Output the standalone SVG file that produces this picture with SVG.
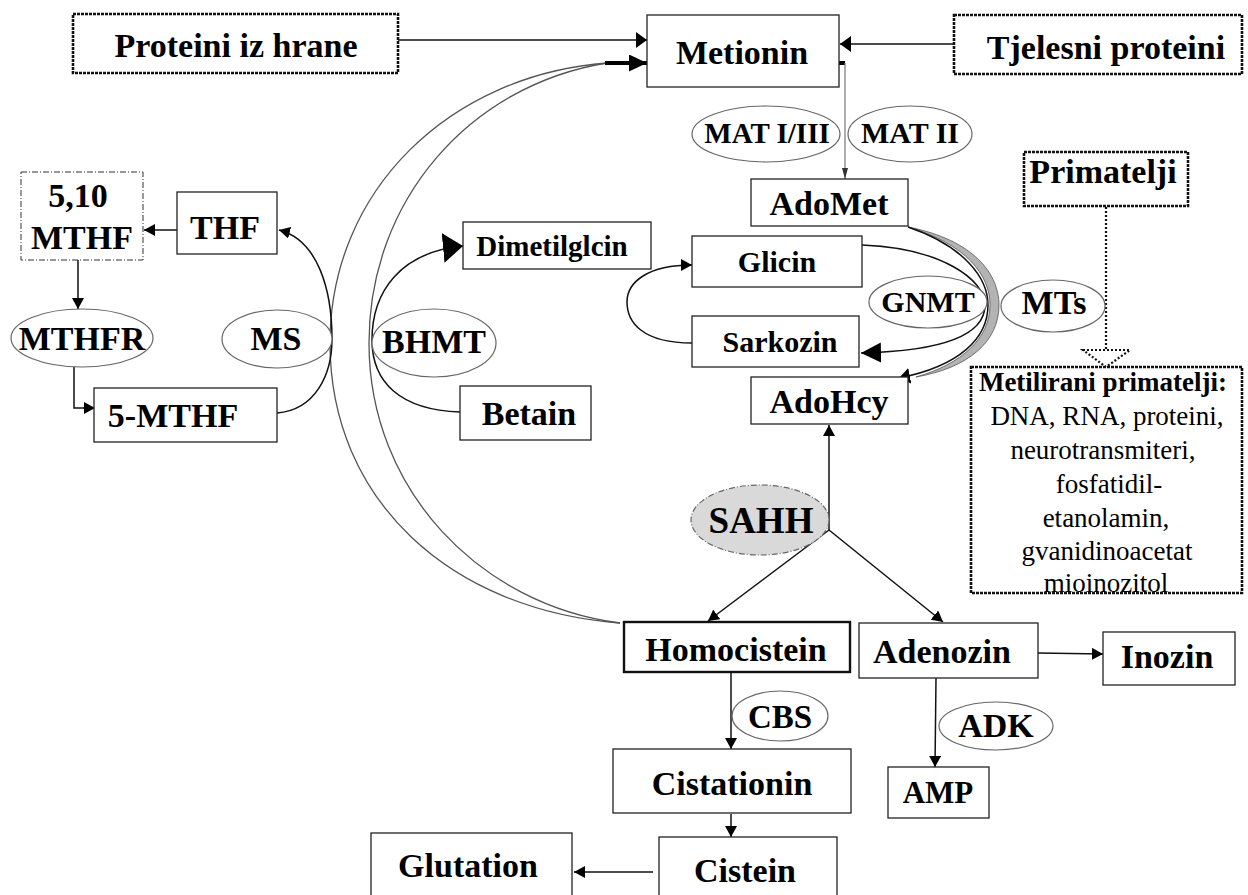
<svg xmlns="http://www.w3.org/2000/svg" width="1248" height="895" viewBox="0 0 1248 895">
<style>
.box{fill:#fff;stroke:#222;stroke-width:1.3}
.thick{fill:#fff;stroke:#111;stroke-width:2.4}
.dot{fill:#fff;stroke:#111;stroke-width:2.6;stroke-dasharray:3 1}
.dd{fill:#fff;stroke:#333;stroke-width:1;stroke-dasharray:6 2 1 2}
.enz{fill:#fff;stroke:#666;stroke-width:1.2}
.sahh{fill:#d9d9d9;stroke:#666;stroke-width:1.2;stroke-dasharray:6 2 1 2}
.t{font-family:"Liberation Serif","Times New Roman",serif;font-weight:bold;font-size:34px;text-anchor:middle;fill:#000}
.s29{font-size:29px}
.s30{font-size:30px}
.r{font-family:"Liberation Serif","Times New Roman",serif;font-size:27px;text-anchor:middle;fill:#000}
.ln{fill:none;stroke:#111;stroke-width:1.5}
.arc{fill:none;stroke:#555;stroke-width:1.3}
.gray{fill:none;stroke:#777;stroke-width:1.2}
</style>
<defs>
<marker id="ah" markerUnits="userSpaceOnUse" markerWidth="12" markerHeight="12" refX="11" refY="6" orient="auto"><path d="M0,0 L11,6 L0,12 z" fill="#000"/></marker>
<marker id="ahw" markerUnits="userSpaceOnUse" markerWidth="12" markerHeight="16" refX="11" refY="8" orient="auto"><path d="M0,0 L11,8 L0,16 z" fill="#000"/></marker>
<marker id="ahthin" markerUnits="userSpaceOnUse" markerWidth="12" markerHeight="8" refX="11" refY="3" orient="auto"><path d="M0,0 L11,3 L0,6 z" fill="#333"/></marker>
<marker id="ahbig" markerUnits="userSpaceOnUse" markerWidth="22" markerHeight="30" refX="20" refY="15" orient="auto"><path d="M0,0 L20,15 L0,30 z" fill="#000"/></marker>
<marker id="ahmed" markerUnits="userSpaceOnUse" markerWidth="22" markerHeight="22" refX="20" refY="10" orient="auto"><path d="M0,0 L20,10 L0,20 z" fill="#000"/></marker>
<marker id="ahthick" markerUnits="userSpaceOnUse" markerWidth="20" markerHeight="18" refX="18" refY="8.5" orient="auto"><path d="M0,0 L18,8.5 L0,17 z" fill="#000"/></marker>
</defs>

<g id="connectors">
  <!-- top inputs -->
  <line class="ln" x1="398" y1="40" x2="647" y2="40" stroke-width="2" marker-end="url(#ahw)"/>
  <line class="ln" x1="954" y1="44" x2="840" y2="44" marker-end="url(#ahw)"/>
  <!-- Metionin to AdoMet -->
  <path d="M839,63 H845" stroke="#000" stroke-width="4" fill="none"/>
  <path class="gray" d="M845,63 V179" marker-end="url(#ahthin)"/>
  <!-- remethylation arcs Homocistein -> Metionin -->
  <path class="arc" d="M620,623 C450,610 330,500 330,343 C330,190 450,75 607,63"/>
  <path class="arc" d="M620,623 C480,605 369,490 369,343 C369,200 470,85 607,63"/>
  <line x1="605" y1="63" x2="647" y2="63" stroke="#000" stroke-width="4" marker-end="url(#ahthick)"/>
  <!-- folate cycle -->
  <line class="ln" x1="177" y1="230" x2="144" y2="230" marker-end="url(#ah)"/>
  <line class="ln" x1="78" y1="260" x2="78" y2="309" marker-end="url(#ah)"/>
  <path class="ln" d="M74,367 V408 H95" marker-end="url(#ah)"/>
  <path class="ln" d="M277,413 C315,410 332,375 332,339 C332,290 318,240 279,230" marker-end="url(#ah)"/>
  <!-- BHMT -->
  <path class="ln" d="M460,412 C400,410 372,382 372,340 C372,292 400,252 463,246" marker-end="url(#ahbig)"/>
  <!-- Sarkozin -> Glicin loop -->
  <path class="ln" d="M692,343 C642,343 627,322 627,302 C627,282 648,265 692,265" marker-end="url(#ah)"/>
  <!-- AdoMet -> AdoHcy crescent -->
  <path d="M908,227 C975,240 999,275 999,305 C999,342 968,368 916,377 C962,364 990,338 990,305 C990,275 966,244 908,227 Z" fill="#b3b3b3" stroke="#555" stroke-width="0.8"/>
  <path class="ln" d="M908,227 C964,246 988,278 988,305 C988,338 960,366 899,378" marker-end="url(#ahw)"/>
  <!-- Glicin -> Sarkozin -->
  <path class="ln" d="M862,245 C942,248 985,280 985,305 C985,336 942,351 861,353" marker-end="url(#ahmed)"/>
  <!-- Primatelji -> Metilirani -->
  <line x1="1106" y1="207" x2="1106" y2="350" stroke="#111" stroke-width="2.2" stroke-dasharray="2 2"/>
  <path d="M1083,350 H1130 L1106,367 Z" fill="#fff" stroke="#111" stroke-width="2.2" stroke-dasharray="2 2"/>
  <!-- SAHH -->
  <line class="ln" x1="829" y1="531" x2="829" y2="425" marker-end="url(#ah)"/>
  <line class="ln" x1="829" y1="530" x2="708" y2="621" marker-end="url(#ah)"/>
  <line class="ln" x1="829" y1="530" x2="943" y2="622" marker-end="url(#ah)"/>
  <!-- transsulfuration -->
  <line class="ln" x1="731" y1="672" x2="731" y2="749" marker-end="url(#ah)"/>
  <line class="ln" x1="731" y1="814" x2="731" y2="837" marker-end="url(#ah)"/>
  <line class="ln" x1="653" y1="872" x2="574" y2="872" marker-end="url(#ah)"/>
  <!-- adenosine -->
  <line class="ln" x1="1038" y1="653" x2="1103" y2="654" marker-end="url(#ah)"/>
  <line class="ln" x1="936" y1="678" x2="935" y2="767" marker-end="url(#ah)"/>
</g>

<g id="proteini-iz-hrane"><rect class="dot" x="73" y="14" width="325" height="59"/><text class="t" x="236" y="57">Proteini iz hrane</text></g>
<g id="metionin"><rect class="box" x="647" y="15" width="192" height="72"/><text class="t" x="742" y="64">Metionin</text></g>
<g id="tjelesni-proteini"><rect class="dot" x="954" y="15" width="288" height="59"/><text class="t" x="1106" y="59">Tjelesni proteini</text></g>

<g id="mat13"><ellipse class="enz" cx="766" cy="134" rx="74" ry="28"/><text class="t s29" x="767" y="143">MAT I/III</text></g>
<g id="mat2"><ellipse class="enz" cx="910" cy="134" rx="62" ry="28"/><text class="t s30" x="910" y="143">MAT II</text></g>

<g id="adomet"><rect class="box" x="751" y="179" width="157" height="47"/><text class="t" x="829" y="215">AdoMet</text></g>
<g id="primatelji"><rect class="dot" x="1024" y="152" width="164" height="54"/><text class="t" x="1103" y="183">Primatelji</text></g>

<g id="mthf510"><rect class="dd" x="21" y="172" width="122" height="88"/><text class="t" x="78" y="207">5,10</text><text class="t" x="82" y="249">MTHF</text></g>
<g id="thf"><rect class="box" x="177" y="192" width="100" height="62"/><text class="t" x="225" y="239">THF</text></g>
<g id="mthfr"><ellipse class="enz" cx="82" cy="338" rx="71" ry="29"/><text class="t" x="82" y="350">MTHFR</text></g>
<g id="ms"><ellipse class="enz" cx="277" cy="339" rx="55" ry="29"/><text class="t" x="276" y="350">MS</text></g>
<g id="mthf5"><rect class="box" x="94" y="388" width="183" height="54"/><text class="t" x="173" y="427">5-MTHF</text></g>

<g id="dimetilglicin"><rect class="box" x="463" y="222" width="188" height="47"/><text class="t s29" x="552" y="256">Dimetilglcin</text></g>
<g id="bhmt"><ellipse class="enz" cx="434" cy="343" rx="62" ry="34"/><text class="t" x="434" y="353">BHMT</text></g>
<g id="betain"><rect class="box" x="460" y="386" width="131" height="54"/><text class="t" x="529" y="425">Betain</text></g>

<g id="glicin"><rect class="box" x="692" y="236" width="170" height="51"/><text class="t s30" x="777" y="272">Glicin</text></g>
<g id="gnmt"><ellipse class="enz" cx="928" cy="302" rx="59" ry="26"/><text class="t s30" x="928" y="312">GNMT</text></g>
<g id="sarkozin"><rect class="box" x="692" y="316" width="167" height="51"/><text class="t s30" x="780" y="352">Sarkozin</text></g>
<g id="mts"><ellipse class="enz" cx="1053" cy="306" rx="52" ry="26"/><text class="t" x="1054" y="314">MTs</text></g>
<g id="adohcy"><rect class="box" x="751" y="377" width="157" height="47"/><text class="t" x="829" y="413">AdoHcy</text></g>

<g id="metilirani-primatelji"><rect class="dot" x="971" y="367" width="271" height="226"/>
<text class="t" style="font-size:27px" x="1103" y="391">Metilirani primatelji:</text>
<text class="r" x="1107" y="425">DNA, RNA, proteini,</text>
<text class="r" x="1103" y="459">neurotransmiteri,</text>
<text class="r" x="1109" y="493">fosfatidil-</text>
<text class="r" x="1106" y="527">etanolamin,</text>
<text class="r" x="1107" y="560">gvanidinoacetat</text>
<text class="r" x="1106" y="592">mioinozitol</text>
</g>

<g id="sahh"><ellipse class="sahh" cx="760" cy="520" rx="69" ry="35"/><text class="t" style="font-size:37px" x="761" y="533">SAHH</text></g>

<g id="homocistein"><rect class="thick" x="624" y="622" width="226" height="50"/><text class="t" x="736" y="661">Homocistein</text></g>
<g id="adenozin"><rect class="box" x="859" y="623" width="179" height="55"/><text class="t" x="942" y="663">Adenozin</text></g>
<g id="inozin"><rect class="box" x="1103" y="632" width="132" height="53"/><text class="t" x="1167" y="668">Inozin</text></g>
<g id="cbs"><ellipse class="enz" cx="780" cy="716" rx="48" ry="25"/><text class="t" style="font-size:33px" x="780" y="728">CBS</text></g>
<g id="adk"><ellipse class="enz" cx="996" cy="726" rx="57" ry="24"/><text class="t" x="996" y="737">ADK</text></g>
<g id="cistationin"><rect class="box" x="613" y="749" width="238" height="64"/><text class="t" x="732" y="795">Cistationin</text></g>
<g id="amp"><rect class="box" x="888" y="767" width="101" height="51"/><text class="t" style="font-size:31px" x="938" y="803">AMP</text></g>
<g id="cistein"><rect class="box" x="659" y="837" width="178" height="64"/><text class="t" x="745" y="882">Cistein</text></g>
<g id="glutation"><rect class="box" x="371" y="833" width="201" height="68"/><text class="t" x="468" y="877">Glutation</text></g>
</svg>
